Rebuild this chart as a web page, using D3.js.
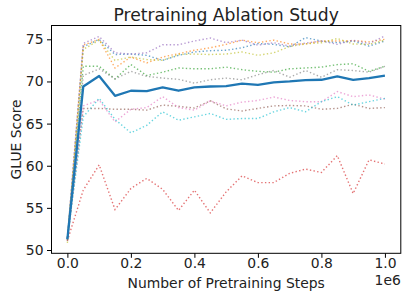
<!DOCTYPE html>
<html>
<head>
<meta charset="utf-8">
<script src="https://cdn.jsdelivr.net/npm/d3@7"></script>
<style>
  body { margin: 0; background: #fff; }
  text { font-family: "DejaVu Sans", sans-serif; }
</style>
</head>
<body>
<div id="chart"></div>
<script>
const steps = [0, 50000, 100000, 150000, 200000, 250000, 300000, 350000, 400000, 450000, 500000,
  550000, 600000, 650000, 700000, 750000, 800000, 850000, 900000, 950000, 1000000];

// individual runs, tab10 order
const runBlue   = [51.3, 74.1, 75.0, 73.2, 73.25, 73.1, 72.5, 73.1, 73.5, 73.65, 73.7, 74.0, 74.5, 74.4, 74.1, 75.2, 74.8, 74.6, 74.8, 74.2, 74.8];
const runOrange = [51.2, 74.3, 75.0, 71.6, 72.9, 72.2, 72.9, 73.3, 73.7, 74.0, 74.4, 74.9, 74.6, 74.9, 74.45, 74.45, 74.8, 74.8, 74.85, 74.7, 75.0];
const runGreen  = [51.5, 71.8, 71.8, 70.3, 72.0, 70.7, 71.1, 71.6, 71.5, 71.5, 71.7, 71.4, 71.2, 71.1, 71.5, 71.6, 71.7, 72.0, 72.1, 71.2, 71.8];
const runRed    = [51.1, 57.1, 60.1, 54.8, 57.3, 58.5, 57.2, 54.7, 57.1, 54.4, 56.9, 58.8, 58.0, 58.0, 59.1, 59.6, 59.2, 61.2, 56.7, 60.7, 60.2];
const runPurple = [51.4, 74.5, 75.35, 73.4, 73.25, 73.4, 74.35, 74.35, 74.8, 75.15, 74.6, 74.9, 74.3, 74.6, 74.2, 74.55, 74.8, 74.4, 74.9, 74.5, 75.4];
const runBrown  = [51.1, 66.8, 66.8, 66.7, 66.7, 66.6, 67.2, 67.05, 66.85, 67.7, 66.75, 66.5, 66.8, 67.1, 67.15, 67.1, 66.7, 66.8, 67.3, 66.8, 66.9];
const runPink   = [51.4, 67.1, 67.8, 65.2, 66.7, 66.9, 68.2, 66.9, 66.6, 67.7, 67.1, 67.55, 67.75, 68.15, 67.75, 67.6, 67.6, 68.8, 68.2, 68.4, 67.9];
const runGray   = [51.3, 70.7, 71.5, 70.3, 71.2, 70.6, 70.4, 70.25, 69.8, 70.2, 70.4, 70.2, 70.8, 71.3, 70.5, 71.3, 70.5, 71.4, 71.3, 71.1, 71.8];
const runOlive  = [50.85, 73.8, 74.9, 72.5, 72.9, 72.6, 72.5, 73.2, 73.25, 73.2, 73.25, 73.5, 73.1, 73.4, 74.15, 74.45, 74.6, 75.1, 74.45, 74.4, 74.9];
const runCyan   = [51.4, 65.8, 68.0, 65.5, 63.9, 64.8, 66.4, 65.4, 65.8, 66.2, 65.5, 65.6, 65.6, 66.4, 66.9, 66.4, 67.6, 68.2, 67.2, 67.6, 68.0];

// average curve (thick line)
const meanScore = [51.27, 69.4, 70.65, 68.3, 68.9, 68.85, 69.3, 68.9, 69.3, 69.4, 69.45, 69.75, 69.6, 69.9, 70.0, 70.15, 70.2, 70.6, 70.2, 70.4, 70.7];

const runs = [runBlue, runOrange, runGreen, runRed, runPurple, runBrown, runPink, runGray, runOlive, runCyan];
const runColors = ['#1f77b4', '#ff7f0e', '#2ca02c', '#d62728', '#9467bd', '#8c564b', '#e377c2', '#7f7f7f', '#bcbd22', '#17becf'];

const xTicks = [0, 200000, 400000, 600000, 800000, 1000000];
const yTicks = [50, 55, 60, 65, 70, 75];

const width = 403, height = 295;
const margin = {top: 25.5, right: 2.2, bottom: 41.7, left: 51.5};
const fs = 13.9;

const svg = d3.select('#chart').append('svg')
  .attr('width', width)
  .attr('height', height);

const x = d3.scaleLinear()
  .domain([-50000, 1050000])
  .range([margin.left, width - margin.right]);

const y = d3.scaleLinear()
  .domain([49.61, 76.64])
  .range([height - margin.bottom, margin.top]);

const line = d3.line()
  .x((d, i) => x(steps[i]))
  .y(d => y(d));

const plot = svg.append('g');

runs.forEach((r, k) => {
  plot.append('path')
    .datum(r)
    .attr('fill', 'none')
    .attr('stroke', runColors[k])
    .attr('stroke-width', 1.4)
    .attr('stroke-dasharray', '1.4,2.3')
    .attr('opacity', 0.65)
    .attr('d', line);
});

plot.append('path')
  .datum(meanScore)
  .attr('fill', 'none')
  .attr('stroke', '#1f77b4')
  .attr('stroke-width', 2.3)
  .attr('stroke-linejoin', 'round')
  .attr('d', line);

// axes
const xAxis = svg.append('g')
  .attr('transform', `translate(0,${height - margin.bottom})`)
  .call(d3.axisBottom(x).tickValues(xTicks).tickSize(4.5).tickPadding(0.5)
    .tickFormat(d => (d / 1e6).toFixed(1)));

const yAxis = svg.append('g')
  .attr('transform', `translate(${margin.left},0)`)
  .call(d3.axisLeft(y).tickValues(yTicks).tickSize(4.5).tickPadding(3.5));

[xAxis, yAxis].forEach(g => {
  g.select('.domain').remove();
  g.selectAll('.tick line').attr('stroke', '#000').attr('stroke-width', 1);
  g.selectAll('.tick text')
    .attr('fill', '#222')
    .style('font-family', '"DejaVu Sans", sans-serif')
    .style('font-size', fs + 'px');
});

// frame
svg.append('rect')
  .attr('x', margin.left)
  .attr('y', margin.top)
  .attr('width', width - margin.right - margin.left)
  .attr('height', height - margin.bottom - margin.top)
  .attr('fill', 'none')
  .attr('stroke', '#000')
  .attr('stroke-width', 1);

// labels
svg.append('text')
  .attr('x', (margin.left + width - margin.right) / 2)
  .attr('y', 20.5)
  .attr('text-anchor', 'middle')
  .style('font-size', '17.2px')
  .attr('fill', '#222')
  .text('Pretraining Ablation Study');

svg.append('text')
  .attr('x', (margin.left + width - margin.right) / 2)
  .attr('y', 288)
  .attr('text-anchor', 'middle')
  .style('font-size', fs + 'px')
  .attr('fill', '#222')
  .text('Number of Pretraining Steps');

svg.append('text')
  .attr('x', width - margin.right)
  .attr('y', 284.5)
  .attr('text-anchor', 'end')
  .style('font-size', fs + 'px')
  .attr('fill', '#222')
  .text('1e6');

svg.append('text')
  .attr('transform', `translate(21,${(margin.top + height - margin.bottom) / 2}) rotate(-90)`)
  .attr('text-anchor', 'middle')
  .style('font-size', fs + 'px')
  .attr('fill', '#222')
  .text('GLUE Score');
</script>
</body>
</html>
